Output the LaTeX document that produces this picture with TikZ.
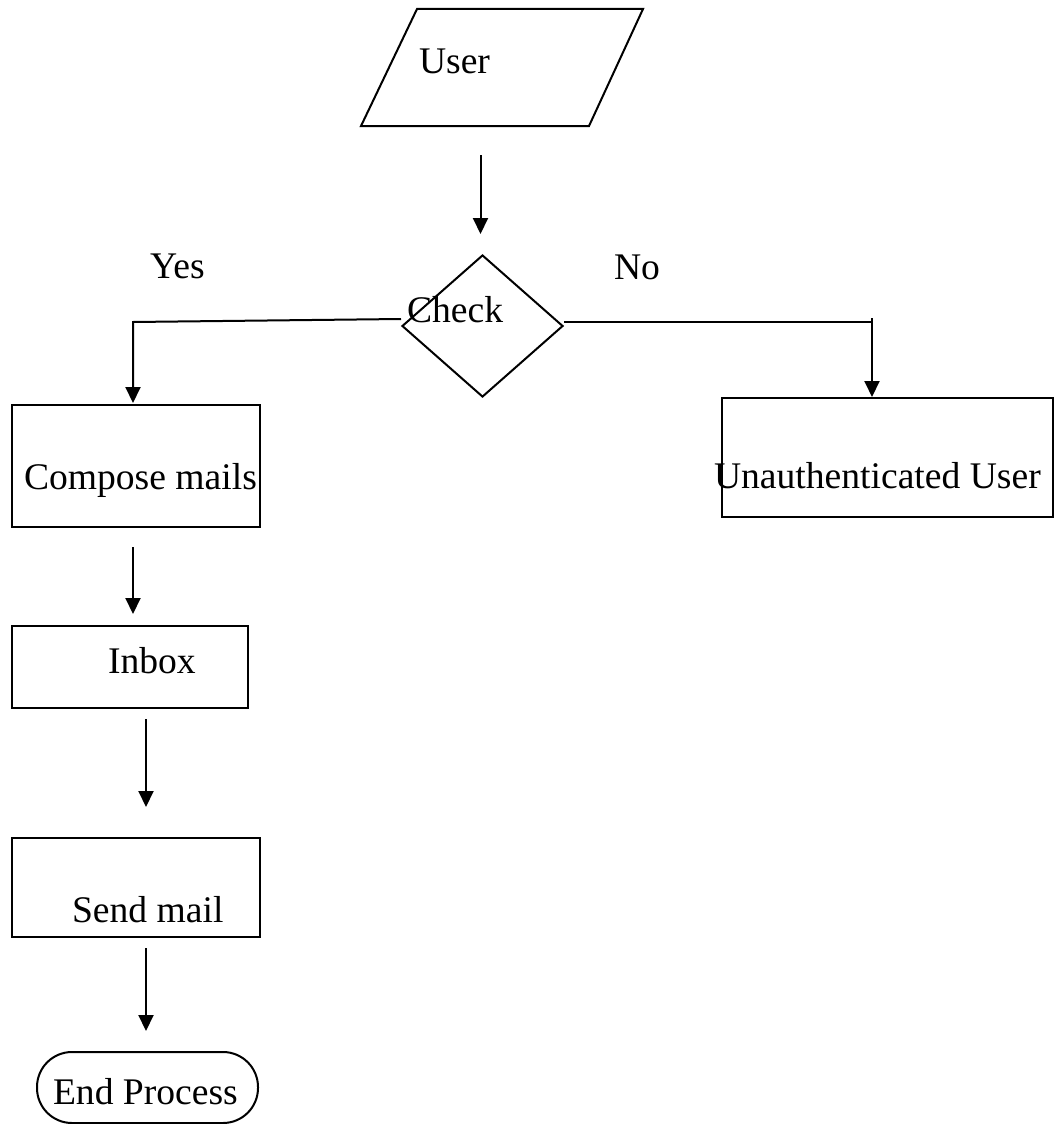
\documentclass[tikz,border=0pt]{standalone}
\usepackage{fontspec}
\setmainfont{Liberation Serif}
\usetikzlibrary{arrows.meta,shapes.geometric}
\begin{document}
\begin{tikzpicture}[x=1pt,y=-1pt,
  line width=2pt,
  box/.style={draw,rectangle,inner sep=0pt},
  txt/.style={inner sep=0pt,anchor=base west,font=\fontsize{37.6pt}{45pt}\selectfont},
  arr/.style={-{Triangle[length=16pt,width=15pt]}}]
\useasboundingbox (0,0) rectangle (1055,1124);

% shapes
\node[inner sep=0pt,minimum width=280pt,minimum height=115pt] (user) at (502,67.5) {};
\draw[line join=miter] ([xshift=56pt]user.north west) -- (user.north east)
  -- ([xshift=-54pt]user.south east) -- (user.south west) -- cycle;
\node[draw,diamond,minimum width=161pt,minimum height=142pt,inner sep=0pt]
      (check) at (482.5,326) {};
\node[box,minimum width=248pt,minimum height=122pt] (compose) at (136,466) {};
\node[box,minimum width=331pt,minimum height=119pt] (unauth) at (887.5,457.5) {};
\node[box,minimum width=236pt,minimum height=82pt] (inbox) at (130,667) {};
\node[box,minimum width=248pt,minimum height=99pt] (send) at (136,887.5) {};
\node[draw,rectangle,rounded corners=35pt,minimum width=221pt,minimum height=71pt,inner sep=0pt]
      (endp) at (147.5,1087.5) {};

% texts
\node[txt] (tuser) at (418,74) {User};
\node[txt] (tyes) at (149,278) {Yes};
\node[txt] (tno) at (613,279) {No};
\node[txt] (tcheck) at (406,322) {Check};
\node[txt] (tcompose) at (23,489) {Compose mails};
\node[txt] (tunauth) at (713,488) {Unauthenticated User};
\node[txt] (tinbox) at (107,673) {Inbox};
\node[txt] (tsend) at (71,922) {Send mail};
\node[txt] (tend) at (52,1104) {End Process};

% connectors
\draw[arr,shorten <=29pt,shorten >=20pt]
  ([xshift=-2pt]check.north |- user.south) -- ([xshift=-2pt]check.north);
% "Yes" branch
\draw[arr] ([yshift=7pt]check.west) -- ([xshift=-3pt,yshift=4pt]compose.north |- check.west)
  -- ([xshift=-3pt,yshift=1pt]compose.north);
% "No" branch
\coordinate (njoin) at ([xshift=-15.5pt]unauth.north |- check.east);
\draw ([yshift=4pt]check.east) -- ([yshift=4pt]njoin);
\draw[arr] ([yshift=8pt]njoin) -- ([xshift=-15.5pt]unauth.north);
% main line
\draw[arr,shorten <=19pt,shorten >=11pt]
  ([xshift=-3pt]compose.south) -- ([xshift=-3pt]compose.south |- inbox.north);
\draw[arr,shorten <=10pt,shorten >=30pt]
  ([xshift=10pt]send.north |- inbox.south) -- ([xshift=10pt]send.north);
\draw[arr,shorten <=10pt,shorten >=20pt]
  ([xshift=-1.5pt]endp.north |- send.south) -- ([xshift=-1.5pt]endp.north);
\end{tikzpicture}
\end{document}
